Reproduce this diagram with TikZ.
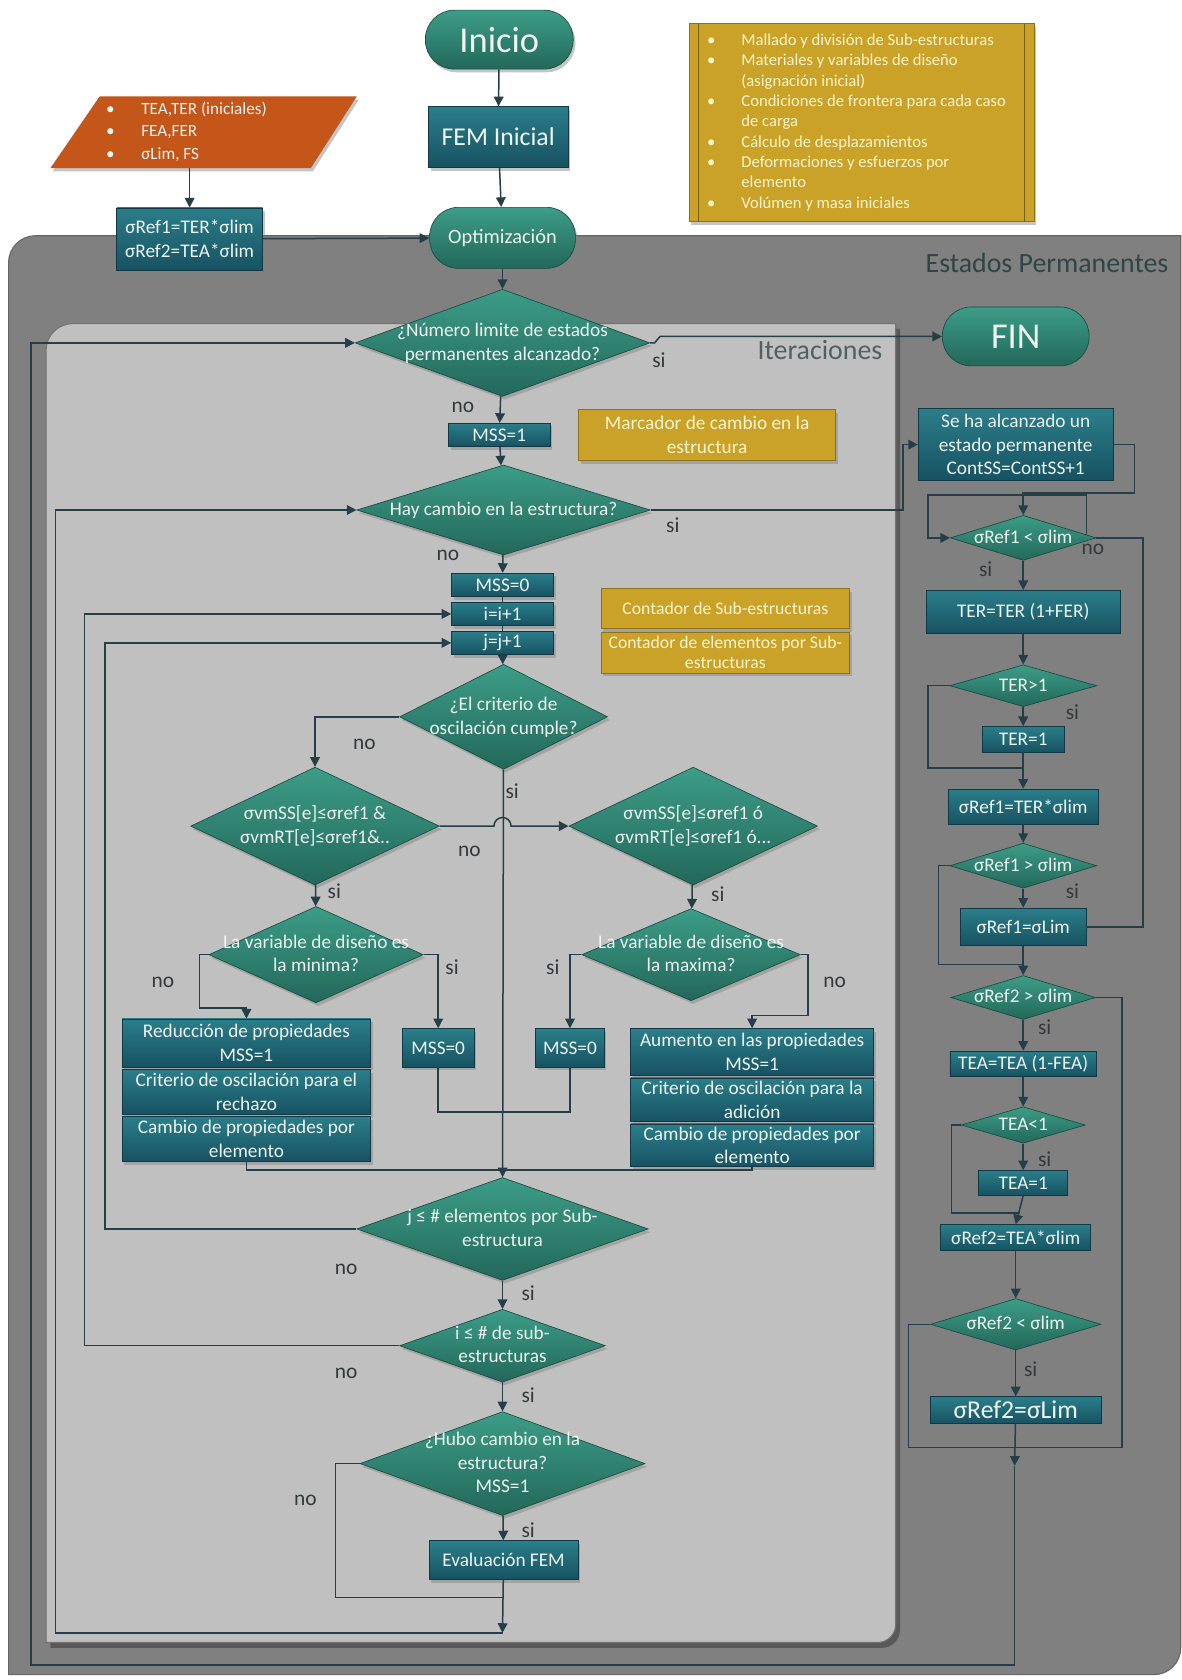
\documentclass[tikz,border=0pt]{standalone}
\usepackage{fontspec}
\setmainfont{Carlito}
\usetikzlibrary{shapes.geometric,arrows.meta,shadows}

\definecolor{conector}{HTML}{263E45}
\definecolor{verdeA}{HTML}{3C9D86}
\definecolor{verdeB}{HTML}{23685A}
\definecolor{tealA}{HTML}{2B7E8A}
\definecolor{tealB}{HTML}{175262}
\definecolor{naranja}{HTML}{C4561A}
\definecolor{mostaza}{HTML}{C9A227}
\definecolor{crema}{HTML}{FFF4CF}
\definecolor{grisosc}{HTML}{808080}
\definecolor{grisclaro}{HTML}{C0C0C0}
\definecolor{texto}{HTML}{33393B}
\definecolor{titulo}{HTML}{2F4548}
\definecolor{blanco}{HTML}{EEF5F3}

% texto de los rombos (no agranda la forma)
\newcommand{\dtxt}[1]{\smash{\raisebox{-5pt}{\makebox[0pt]{\begin{tabular}{@{}c@{}}#1\end{tabular}}}}}

\tikzset{
  base/.style={font=\fontsize{18}{22}\selectfont, text=blanco, align=center, inner sep=1pt,
    drop shadow={opacity=0.45, shadow xshift=2pt, shadow yshift=-3pt}},
  decision/.style={base, diamond, draw=verdeB!70!black, line width=0.6pt, top color=verdeA, bottom color=verdeB},
  proceso/.style={base, rectangle, draw=tealB!70!black, line width=0.6pt, top color=tealA, bottom color=tealB},
  terminal/.style={base, rectangle, rounded corners=27pt, draw=verdeB!70!black, line width=0.6pt, top color=verdeA, bottom color=verdeB},
  nota/.style={base, rectangle, draw=mostaza!70!black, line width=0.6pt, fill=mostaza, text=crema},
  flecha/.style={draw=conector, line width=1.4pt, -{Triangle[width=9pt,length=9pt]}},
  linea/.style={draw=conector, line width=1.4pt},
  etiq/.style={font=\fontsize{20}{20}\selectfont, text=texto, inner sep=0pt},
}

\begin{document}
\begin{tikzpicture}[x=1pt, y=-1pt]
\useasboundingbox (0,0) rectangle (1103,1568);
\fill[white] (0,0) rectangle (1103,1568);
% regiones
\fill[grisosc, draw=black!60, line width=1pt] (8,1563) -- (8,245) arc[start angle=180, end angle=270, radius=25] -- (1102,220) -- (1102,1538) arc[start angle=0, end angle=90, radius=25] -- cycle;
\node[anchor=east, font=\fontsize{26}{26}\selectfont, text=titulo] (estados) at (1094,245) {Estados Permanentes};
\fill[black, opacity=0.3, shift={(4,5)}] (43,1533) -- (43,327) arc[start angle=180, end angle=270, radius=25] -- (836,302) -- (836,1516) arc[start angle=0, end angle=90, radius=17] -- cycle;
\fill[grisclaro, draw=black!55, line width=1pt] (43,1533) -- (43,327) arc[start angle=180, end angle=270, radius=25] -- (836,302) -- (836,1516) arc[start angle=0, end angle=90, radius=17] -- cycle;
\node[anchor=east, font=\fontsize{26}{26}\selectfont, text=titulo!85!white] (iter) at (827,327) {Iteraciones};
%
% entrada de datos
\fill[naranja, drop shadow={opacity=0.45, shadow xshift=2pt, shadow yshift=-3pt}] (47,157) -- (93,90) -- (333,90) -- (290,157) -- cycle;
\node[font=\fontsize{16}{21}\selectfont, text=blanco, minimum width=240pt, minimum height=67pt, inner sep=0pt] (datos) at (174,123.5)
  {\begin{tabular}{@{}p{33pt}@{}l@{}}\textbullet & TEA,TER (iniciales)\\ \textbullet & FEA,FER\\ \textbullet & σLim, FS\end{tabular}};
\node[proceso, minimum width=136pt, minimum height=58pt] (refbox) at (177,223) {σRef1=TER*σlim\\σRef2=TEA*σlim};
%
\node[terminal, minimum width=138pt, minimum height=55pt, font=\fontsize{34}{34}\selectfont] (inicio) at (466,37) {Inicio};
\node[proceso, minimum width=130pt, minimum height=57pt, font=\fontsize{24}{24}\selectfont] (femini) at (465,128) {FEM Inicial};
\node[terminal, minimum width=136pt, minimum height=57pt, font=\fontsize{19}{19}\selectfont] (optim) at (469,222) {Optimización};
\node[nota, minimum width=322pt, minimum height=185pt, font=\fontsize{15.5}{19}\selectfont, align=left] (info) at (804,114.5)
  {\begin{tabular}{@{}p{32pt}@{}p{256pt}@{}}
  \textbullet & Mallado y división de Sub-estructuras\\
  \textbullet & Materiales y variables de diseño\\
              & (asignación inicial)\\
  \textbullet & Condiciones de frontera para cada caso\\
              & de carga\\
  \textbullet & Cálculo de desplazamientos\\
  \textbullet & Deformaciones y esfuerzos por\\
              & elemento\\
  \textbullet & Volúmen y masa iniciales
  \end{tabular}};
\draw[mostaza!60!black, line width=1pt] ([xshift=9pt]info.north west) -- ([xshift=9pt]info.south west);
\draw[mostaza!60!black, line width=1pt] ([xshift=-9pt]info.north east) -- ([xshift=-9pt]info.south east);
%
% iteraciones
\node[decision, minimum width=275pt, minimum height=100pt] (d1) at (469,320) {\dtxt{¿Número limite de estados\\permanentes alcanzado?}};
\node[proceso, minimum width=95pt, minimum height=22pt] (mss1) at (466,406) {MSS=1};
\node[nota, minimum width=240pt, minimum height=48pt] (marca) at (660,406) {Marcador de cambio en la\\estructura};
\node[decision, minimum width=274pt, minimum height=84pt] (d2) at (470,476) {\dtxt{Hay cambio en la estructura?}};
\node[proceso, minimum width=95pt, minimum height=22pt] (mss0) at (469,546) {MSS=0};
\node[proceso, minimum width=95pt, minimum height=22pt] (iinc) at (469,573) {i=i+1};
\node[proceso, minimum width=95pt, minimum height=22pt] (jinc) at (469,600) {j=j+1};
\node[nota, minimum width=232pt, minimum height=37pt, font=\fontsize{16.5}{19}\selectfont] (contsub) at (677,568) {Contador de Sub-estructuras};
\node[nota, minimum width=232pt, minimum height=38pt, font=\fontsize{16.5}{19}\selectfont] (contele) at (677,609) {Contador de elementos por Sub-\\estructuras};
\node[decision, minimum width=194pt, minimum height=98pt] (d3) at (470,669) {\dtxt{¿El criterio de\\oscilación cumple?}};
\node[decision, minimum width=232pt, minimum height=110pt] (d4) at (294,771) {\dtxt{σvmSS[e]≤σref1 \&\\σvmRT[e]≤σref1\&..}};
\node[decision, minimum width=232pt, minimum height=110pt] (d5) at (647,771) {\dtxt{σvmSS[e]≤σref1 ó\\σvmRT[e]≤σref1 ó...}};
\node[decision, minimum width=200pt, minimum height=90pt] (d6) at (295,891) {\dtxt{La variable de diseño es\\la minima?}};
\node[decision, minimum width=204pt, minimum height=86pt] (d7) at (645,891) {\dtxt{La variable de diseño es\\la maxima?}};
\node[proceso, minimum width=232pt, minimum height=45pt] (reda) at (230,973.5) {Reducción de propiedades\\MSS=1};
\node[proceso, minimum width=232pt, minimum height=42pt] (redb) at (230,1019) {Criterio de oscilación para el\\rechazo};
\node[proceso, minimum width=232pt, minimum height=42pt] (redc) at (230,1063) {Cambio de propiedades por\\elemento};
\node[proceso, minimum width=67pt, minimum height=36pt] (mss0a) at (409,978) {MSS=0};
\node[proceso, minimum width=64pt, minimum height=36pt] (mss0b) at (532,978) {MSS=0};
\node[proceso, minimum width=227pt, minimum height=44pt] (auga) at (702,982) {Aumento en las propiedades\\MSS=1};
\node[proceso, minimum width=227pt, minimum height=41pt] (augb) at (702,1026.5) {Criterio de oscilación para la\\adición};
\node[proceso, minimum width=227pt, minimum height=40pt] (augc) at (702,1069) {Cambio de propiedades por\\elemento};
\node[decision, minimum width=272pt, minimum height=96pt] (d8) at (469,1147) {\dtxt{j ≤ \# elementos por Sub-\\estructura}};
\node[decision, minimum width=192pt, minimum height=68pt] (d9) at (469,1256) {\dtxt{i ≤ \# de sub-\\estructuras}};
\node[decision, minimum width=266pt, minimum height=97pt] (d10) at (469,1366) {\dtxt{¿Hubo cambio en la\\estructura?\\MSS=1}};
\node[proceso, minimum width=139pt, minimum height=36pt] (evalfem) at (470,1456) {Evaluación FEM};
%
% estados permanentes
\node[terminal, minimum width=137pt, minimum height=55pt, font=\fontsize{34}{34}\selectfont] (fin) at (948,314) {FIN};
\node[proceso, minimum width=182pt, minimum height=67pt] (sehaalc) at (948,415) {Se ha alcanzado un\\estado permanente\\ContSS=ContSS+1};
\node[decision, minimum width=136pt, minimum height=42pt] (d1r) at (955,502) {\dtxt{σRef1 < σlim}};
\node[proceso, minimum width=181pt, minimum height=40pt] (ter) at (955,571) {TER=TER (1+FER)};
\node[decision, minimum width=137pt, minimum height=39pt] (dter) at (955,640) {\dtxt{TER>1}};
\node[proceso, minimum width=76pt, minimum height=24pt] (ter1) at (955,690) {TER=1};
\node[proceso, minimum width=140pt, minimum height=33pt] (sig1ter) at (955,753) {σRef1=TER*σlim};
\node[decision, minimum width=137pt, minimum height=42pt] (d2r) at (955,808) {\dtxt{σRef1 > σlim}};
\node[proceso, minimum width=117pt, minimum height=35pt] (sig1lim) at (955,865) {σRef1=σLim};
\node[decision, minimum width=135pt, minimum height=41pt] (d3r) at (955,931) {\dtxt{σRef2 > σlim}};
\node[proceso, minimum width=137pt, minimum height=24pt] (tea) at (955,993) {TEA=TEA (1-FEA)};
\node[decision, minimum width=116pt, minimum height=34pt] (dtea) at (955,1050) {\dtxt{TEA<1}};
\node[proceso, minimum width=83pt, minimum height=23pt] (tea1) at (955,1104) {TEA=1};
\node[proceso, minimum width=140pt, minimum height=24pt] (sig2tea) at (948,1155) {σRef2=TEA*σlim};
\node[decision, minimum width=159pt, minimum height=48pt] (d4r) at (948,1236) {\dtxt{σRef2 < σlim}};
\node[proceso, minimum width=160pt, minimum height=25pt, font=\fontsize{24}{24}\selectfont] (sig2lim) at (948,1316) {σRef2=σLim};
%
\coordinate (unionA) at (469,1092);
\coordinate (retorno) at (469,1524);
\coordinate (unionB) at (947,1351);
\coordinate (salida) at (947,1368);
%
% conectores
\draw[flecha] (inicio) -- (femini);
\draw[flecha] (femini) -- (optim);
\draw[flecha] (datos.south -| refbox.north) -- (refbox);
\draw[flecha] (refbox) -- (optim);
\draw[flecha] (optim) -- (d1);
\draw[flecha] (d1.east) -- (611,320) -- (616,314) -- (fin.west);
\draw[flecha] (d1) -- (mss1);
\draw[flecha] (mss1) -- (d2);
\draw[flecha] (d2.east) -- (843,476) |- (sehaalc.west);
\draw[flecha] (d2) -- (mss0);
\draw[linea] (mss0) -- (iinc);
\draw[linea] (iinc) -- (jinc);
\draw[flecha] (jinc) -- (d3);
\draw[flecha] (d3.west) -| (d4.north);
\draw[flecha] (d3) -- (d8);
\draw[flecha] (d4.east) -- (461,771) arc[start angle=180, end angle=360, radius=8] -- (d5.west);
\draw[flecha] (d4) -- (d6);
\draw[flecha] (d5) -- (d7);
\draw[flecha] (d6.west) -- (186,891) |- (230,941) -- (reda.north);
\draw[flecha] (d6.east) -| (mss0a.north);
\draw[flecha] (d7.west) -| (mss0b.north);
\draw[flecha] (d7.east) -- (754,891) |- (702,948) -- (auga.north);
\draw[linea] (mss0a.south) -- (409,1038) -- (532,1038) -- (mss0b.south);
\draw[linea] (redc.south) |- (unionA);
\draw[linea] (augc.south) |- (unionA);
\draw[flecha] (d8) -- (d9);
\draw[flecha] (d9) -- (d10);
\draw[flecha] (d10) -- (evalfem);
\draw[linea] (d10.west) -- (313,1366) |- (469,1491);
\draw[flecha] (evalfem) -- (retorno);
\draw[flecha] (retorno) -- (52,1524) |- (d2.west);
\draw[flecha] (d9.west) -- (79,1256) |- (iinc.west);
\draw[flecha] (d8.west) -- (98,1147) |- (jinc.west);
%
\draw[flecha] (sehaalc.east) -- (1059,415) |- (955,460) -- (d1r.north);
\draw[flecha] (1014,499) -- (1014,462) -- (866,462) |- (d1r.west);
\draw[linea] (d1r.east) -- (1067,502) |- (sig1lim.east);
\draw[flecha] (d1r) -- (ter);
\draw[flecha] (ter) -- (dter);
\draw[flecha] (dter) -- (ter1);
\draw[flecha] (ter1) -- (sig1ter);
\draw[linea] (dter.west) -- (866,640) |- (955,717);
\draw[flecha] (sig1ter) -- (d2r);
\draw[flecha] (d2r) -- (sig1lim);
\draw[linea] (d2r.west) -- (876,808) |- (955,900);
\draw[flecha] (sig1lim) -- (d3r);
\draw[flecha] (d3r) -- (tea);
\draw[linea] (d3r.east) -- (1047,931) |- (unionB);
\draw[flecha] (tea) -- (dtea);
\draw[flecha] (dtea) -- (tea1);
\draw[linea] (dtea.west) -- (888,1050) |- (952,1132);
\draw[flecha] (tea1.south) -- (sig2tea.north);
\draw[flecha] (sig2tea) -- (d4r);
\draw[flecha] (d4r) -- (sig2lim);
\draw[linea] (d4r.west) -- (848,1236) |- (unionB);
\draw[flecha] (sig2lim) -- (salida);
\draw[flecha] (salida) -- (947,1554) -- (29,1554) |- (d1.west);
%
% etiquetas si / no
\node[etiq] (no1) at (432,380) {no};
\node[etiq] (si1) at (615,336) {si};
\node[etiq] (si2) at (628,490) {si};
\node[etiq] (no2) at (418,518) {no};
\node[etiq] (no3) at (340,695) {no};
\node[etiq] (si3) at (478,738) {si};
\node[etiq] (no4) at (438,795) {no};
\node[etiq] (si4) at (312,832) {si};
\node[etiq] (si5) at (670,835) {si};
\node[etiq] (no6) at (152,917) {no};
\node[etiq] (si6) at (422,903) {si};
\node[etiq] (si7) at (516,903) {si};
\node[etiq] (no7) at (779,917) {no};
\node[etiq] (no8) at (323,1185) {no};
\node[etiq] (si8) at (493,1207) {si};
\node[etiq] (no9) at (323,1282) {no};
\node[etiq] (si9) at (493,1302) {si};
\node[etiq] (no10) at (285,1400) {no};
\node[etiq] (si10) at (493,1428) {si};
\node[etiq] (sir1) at (920,531) {si};
\node[etiq] (nor1) at (1020,513) {no};
\node[etiq] (sir2) at (1001,665) {si};
\node[etiq] (sir3) at (1001,832) {si};
\node[etiq] (sir4) at (975,959) {si};
\node[etiq] (sir5) at (975,1082) {si};
\node[etiq] (sir6) at (962,1278) {si};
\end{tikzpicture}
\end{document}
